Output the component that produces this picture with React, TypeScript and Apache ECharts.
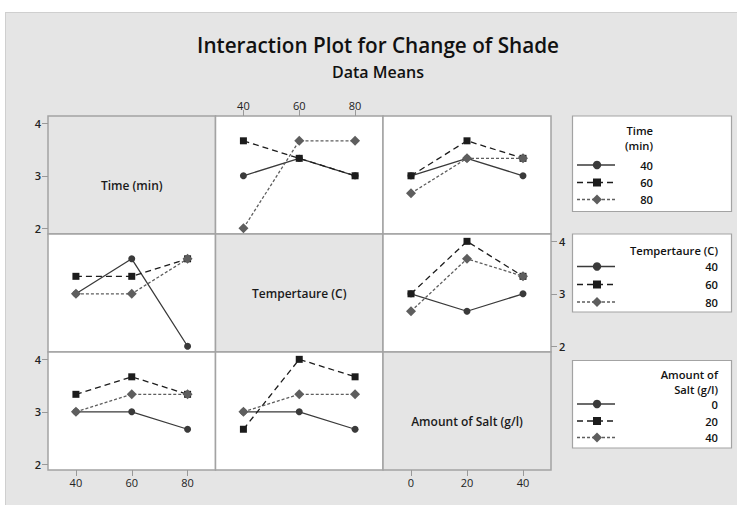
import React, { useEffect, useRef } from "react";
import * as echarts from "echarts";

// ---- data ----
const factorNames = ["Time (min)", "Tempertaure (C)", "Amount of Salt (g/l)"];
const timeLevels = [40, 60, 80];
const tempLevels = [40, 60, 80];
const saltLevels = [0, 20, 40];
const yTicks = [2, 3, 4];

// rows: level of line factor, columns: level of x factor
const timeVsTemp = [[3, 3.333, 3], [3.667, 3.333, 3], [2, 3.667, 3.667]];
const timeVsSalt = [[3, 3.333, 3], [3, 3.667, 3.333], [2.667, 3.333, 3.333]];
const tempVsTime = [[3, 3.667, 2], [3.333, 3.333, 3.667], [3, 3, 3.667]];
const tempVsSalt = [[3, 2.667, 3], [3, 4, 3.333], [2.667, 3.667, 3.333]];
const saltVsTime = [[3, 3, 2.667], [3.333, 3.667, 3.333], [3, 3.333, 3.333]];
const saltVsTemp = [[3, 3, 2.667], [2.667, 4, 3.667], [3, 3.333, 3.333]];

const legendTitles = [["Time", "(min)"], ["Tempertaure (C)"], ["Amount of", "Salt (g/l)"]];

// ---- layout / style ----
const levelsOf = [timeLevels, tempLevels, saltLevels];
const xRanges = [[30, 90], [30, 90], [-10, 50]];
const yRange = [1.89, 4.14];
const colX = [48, 215.5, 383];
const colW = [167.5, 167.5, 168];
const rowY = [116, 234, 352];
const rowH = 118;
const cellData: Record<string, number[][]> = {
  "0-1": timeVsTemp,
  "0-2": timeVsSalt,
  "1-0": tempVsTime,
  "1-2": tempVsSalt,
  "2-0": saltVsTime,
  "2-1": saltVsTemp,
};
const symbols = ["circle", "rect", "diamond"];
const symSizes = [7, 7, 10];
const colors = ["#3a3a3a", "#1c1c1c", "#5e5e5e"];
const dashes: any[] = ["solid", [6, 4], [3, 2]];
const FONT = '"Open Sans", "Noto Sans", sans-serif';

export default function App() {
  const ref = useRef<HTMLDivElement>(null);
  useEffect(() => {
    if (!ref.current) return;
    const chart = echarts.init(ref.current, null, { renderer: "svg" });
    const grids: any[] = [];
    const xAxes: any[] = [];
    const yAxes: any[] = [];
    const series: any[] = [];
    const graphics: any[] = [];

    for (let r = 0; r < 3; r++) {
      for (let c = 0; c < 3; c++) {
        const idx = r * 3 + c;
        grids.push({
          left: colX[c],
          top: rowY[r],
          width: colW[c],
          height: rowH,
          show: true,
          backgroundColor: r === c ? "#e5e5e5" : "#ffffff",
          borderColor: "#a3a3a3",
          borderWidth: 1.5,
        });
        const showX = (r === 0 && c === 1) || (r === 2 && (c === 0 || c === 2));
        const xTop = r === 0;
        xAxes.push({
          gridIndex: idx,
          type: "value",
          min: xRanges[c][0],
          max: xRanges[c][1],
          position: xTop ? "top" : "bottom",
          axisLine: { show: false, onZero: false },
          splitLine: { show: false },
          axisTick: {
            show: showX,
            customValues: levelsOf[c],
            length: 6,
            lineStyle: { color: "#999", width: 1 },
          },
          axisLabel: {
            show: showX,
            customValues: levelsOf[c],
            fontFamily: FONT,
            fontSize: 11,
            color: "#222",
            margin: xTop ? 5 : 7,
          },
        });
        const showY = (c === 0 && (r === 0 || r === 2)) || (c === 2 && r === 1);
        yAxes.push({
          gridIndex: idx,
          type: "value",
          min: yRange[0],
          max: yRange[1],
          position: c === 2 ? "right" : "left",
          axisLine: { show: false, onZero: false },
          splitLine: { show: false },
          axisTick: {
            show: showY,
            customValues: yTicks,
            length: 6,
            lineStyle: { color: "#999", width: 1 },
          },
          axisLabel: {
            show: showY,
            customValues: yTicks,
            fontFamily: FONT,
            fontSize: 11,
            fontWeight: 600,
            color: "#222",
            margin: c === 2 ? 8 : 7,
          },
        });
        if (r === c) {
          graphics.push({
            type: "text",
            z: 100,
            x: colX[c] + colW[c] / 2,
            y: [185, 293, 421][r],
            style: {
              text: factorNames[r],
              font: `600 12px ${FONT}`,
              fill: "#1a1a1a",
              textAlign: "center",
              textVerticalAlign: "middle",
            },
          });
        } else {
          const vals = cellData[`${r}-${c}`];
          vals.forEach((line, k) => {
            series.push({
              type: "line",
              xAxisIndex: idx,
              yAxisIndex: idx,
              data: levelsOf[c].map((x, j) => [x, line[j]]),
              symbol: symbols[k],
              symbolSize: symSizes[k],
              showSymbol: true,
              lineStyle: { color: colors[k], width: 1.3, type: dashes[k] },
              itemStyle: { color: colors[k] },
              z: 3 + k,
            });
          });
        }
      }
    }

    // outer page margins
    graphics.push(
      { type: "rect", shape: { x: 0, y: 0, width: 737, height: 12 }, style: { fill: "#fff" } },
      { type: "rect", shape: { x: 0, y: 0, width: 5, height: 505 }, style: { fill: "#fff" } },
      { type: "line", shape: { x1: 5, y1: 12.5, x2: 737, y2: 12.5 }, style: { stroke: "#cfcfcf", lineWidth: 1 } },
      { type: "line", shape: { x1: 5.5, y1: 12, x2: 5.5, y2: 505 }, style: { stroke: "#cfcfcf", lineWidth: 1 } }
    );

    // title
    graphics.push(
      {
        type: "text",
        x: 378,
        y: 45,
        style: {
          text: "Interaction Plot for Change of Shade",
          font: `600 20.7px ${FONT}`,
          fill: "#111",
          textAlign: "center",
          textVerticalAlign: "middle",
        },
      },
      {
        type: "text",
        x: 378,
        y: 71.5,
        style: {
          text: "Data Means",
          font: `600 16px ${FONT}`,
          fill: "#111",
          textAlign: "center",
          textVerticalAlign: "middle",
        },
      }
    );

    // legends
    const boxes = [
      { top: 116, bottom: 211.5, titleY: [130, 145], entryY: [165, 182.5, 199.5], textRight: 653 },
      { top: 234, bottom: 312, titleY: [250], entryY: [266.5, 284.5, 302], textRight: 718 },
      { top: 360.5, bottom: 448, titleY: [374.5, 389.5], entryY: [404, 421, 437.5], textRight: 718 },
    ];
    boxes.forEach((b, f) => {
      graphics.push({
        type: "rect",
        shape: { x: 572.5, y: b.top, width: 159, height: b.bottom - b.top },
        style: { fill: "#fff", stroke: "#a3a3a3", lineWidth: 1.2 },
      });
      legendTitles[f].forEach((t, i) => {
        graphics.push({
          type: "text",
          x: b.textRight,
          y: b.titleY[i],
          style: {
            text: t,
            font: `600 11.2px ${FONT}`,
            fill: "#111",
            textAlign: "right",
            textVerticalAlign: "middle",
          },
        });
      });
      levelsOf[f].forEach((lv, k) => {
        const y = b.entryY[k];
        graphics.push({
          type: "line",
          shape: { x1: 577, y1: y, x2: 615, y2: y },
          style: { stroke: colors[k], lineWidth: 1.3, lineDash: k === 0 ? null : dashes[k] },
        });
        const mx = 597;
        if (k === 0) {
          graphics.push({ type: "circle", shape: { cx: mx, cy: y, r: 4.2 }, style: { fill: colors[k] } });
        } else if (k === 1) {
          graphics.push({ type: "rect", shape: { x: mx - 4, y: y - 4, width: 8, height: 8 }, style: { fill: colors[k] } });
        } else {
          graphics.push({
            type: "polygon",
            shape: { points: [[mx, y - 5], [mx + 5, y], [mx, y + 5], [mx - 5, y]] },
            style: { fill: colors[k] },
          });
        }
        graphics.push({
          type: "text",
          x: b.textRight,
          y,
          style: {
            text: String(lv),
            font: `600 11.2px ${FONT}`,
            fill: "#111",
            textAlign: "right",
            textVerticalAlign: "middle",
          },
        });
      });
    });

    chart.setOption({
      animation: false,
      backgroundColor: "#e5e5e5",
      grid: grids,
      xAxis: xAxes,
      yAxis: yAxes,
      series,
      graphic: graphics,
    });
    return () => chart.dispose();
  }, []);
  return (
    <div
      ref={ref}
      style={{ position: "absolute", left: 0, top: 0, width: 737, height: 505 }}
    />
  );
}
